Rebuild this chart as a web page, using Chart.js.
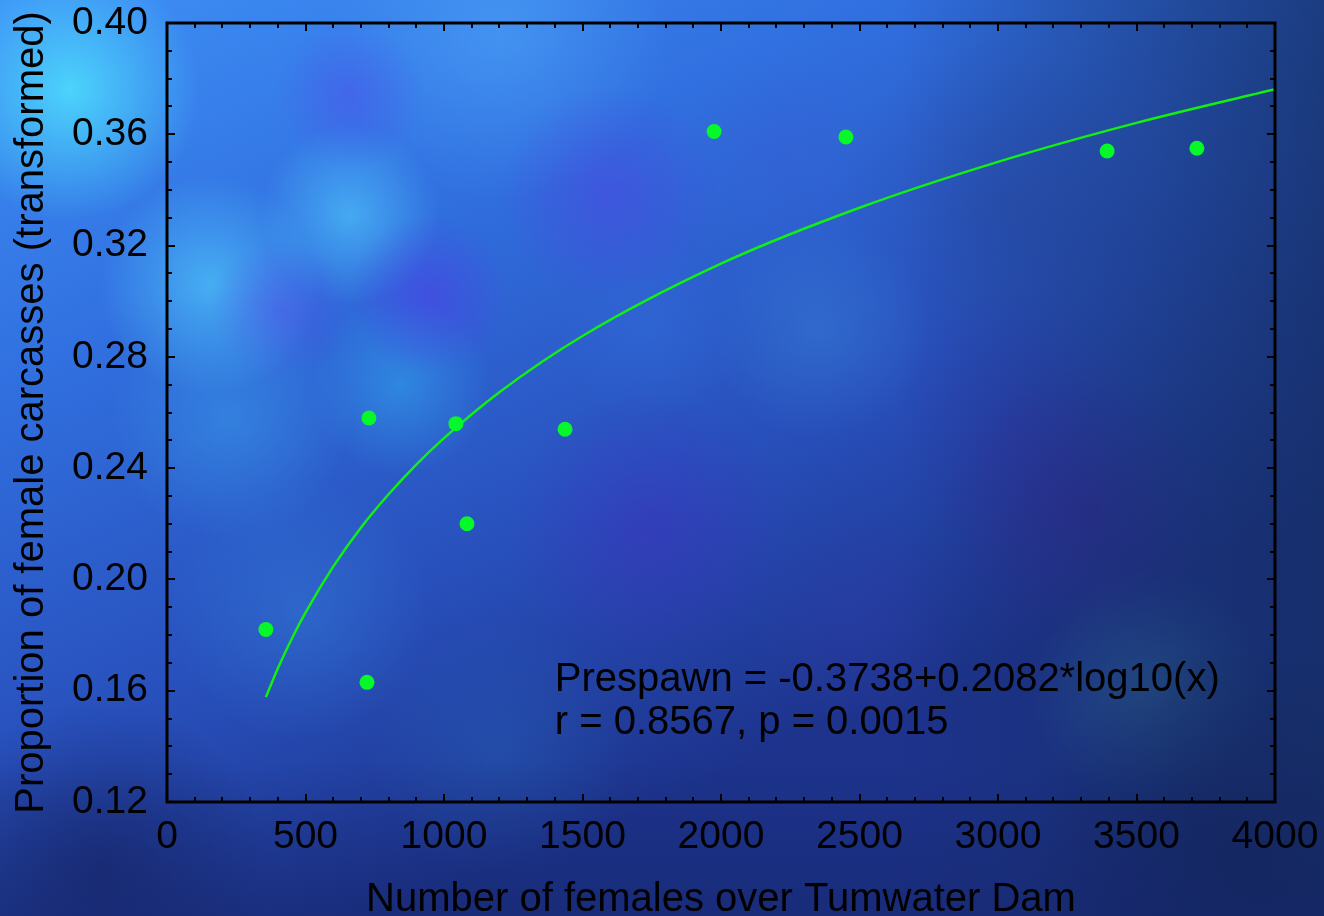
<!DOCTYPE html>
<html>
<head>
<meta charset="utf-8">
<script src="https://cdn.jsdelivr.net/npm/chart.js@4.4.1/dist/chart.umd.min.js"></script>
<style>
  html, body { margin: 0; padding: 0; background: #1a3580; }
  canvas { display: block; }
</style>
</head>
<body>
<canvas id="grafico" width="1324" height="916"></canvas>
<script>
// pontos observados
const femalesX = [357, 729, 722, 1043, 1083, 1437, 1975, 2451, 3394, 3718];
const prespawnY = [0.182, 0.258, 0.163, 0.256, 0.220, 0.254, 0.361, 0.359, 0.354, 0.355];

const fitX = [357, 400, 450, 500, 600, 700, 800, 900, 1000, 1200, 1500, 2000, 2500, 3000, 3500, 4000];
const fitY = [0.1577, 0.1680, 0.1786, 0.1881, 0.2046, 0.2186, 0.2306, 0.2413, 0.2508, 0.2673, 0.2875, 0.3135, 0.3336, 0.3501, 0.3641, 0.3762];

const xTicks = [0, 500, 1000, 1500, 2000, 2500, 3000, 3500, 4000];
const yTicks = [0.12, 0.16, 0.20, 0.24, 0.28, 0.32, 0.36, 0.40];

const xTitle = 'Number of females over Tumwater Dam';
const yTitle = 'Proportion of female carcasses (transformed)';
const equacao = ['Prespawn = -0.3738+0.2082*log10(x)', 'r = 0.8567, p = 0.0015'];

const fonte = '"Liberation Sans", Arial, sans-serif';
const tamanho = 39;
const tamanhoTitulo = 40;

// fundo azul manchado
const fundoPlugin = {
    id: 'fundo',
    beforeDraw(chart) {
        const c = chart.ctx;
        const w = chart.width, h = chart.height;
        c.save();
        let g = c.createLinearGradient(0, 0, w * 0.3, h);
        g.addColorStop(0, '#3e90f6');
        g.addColorStop(0.35, '#3170e0');
        g.addColorStop(0.7, '#2850bc');
        g.addColorStop(1, '#1d338c');
        c.fillStyle = g;
        c.fillRect(0, 0, w, h);

        const manchas = [
            [70, 90, 130, 'rgba(80,230,255,0.8)'],
            [500, 30, 170, 'rgba(80,170,250,0.5)'],
            [210, 285, 110, 'rgba(85,215,255,0.6)'],
            [350, 215, 90, 'rgba(85,215,255,0.55)'],
            [400, 385, 90, 'rgba(50,180,245,0.45)'],
            [350, 95, 75, 'rgba(75,85,235,0.55)'],
            [280, 310, 70, 'rgba(85,80,235,0.45)'],
            [430, 295, 80, 'rgba(75,65,230,0.6)'],
            [610, 195, 110, 'rgba(75,70,225,0.55)'],
            [650, 330, 90, 'rgba(50,110,220,0.4)'],
            [230, 420, 120, 'rgba(60,170,240,0.4)'],
            [820, 330, 110, 'rgba(60,140,220,0.35)'],
            [780, 160, 100, 'rgba(55,95,215,0.4)'],
            [1000, 200, 160, 'rgba(40,70,160,0.4)'],
            [1020, 420, 130, 'rgba(50,50,170,0.35)'],
            [650, 530, 140, 'rgba(65,45,190,0.45)'],
            [860, 620, 110, 'rgba(50,60,170,0.35)'],
            [1080, 510, 140, 'rgba(60,30,140,0.45)'],
            [1150, 690, 120, 'rgba(60,140,165,0.4)'],
            [300, 610, 130, 'rgba(55,140,225,0.35)'],
            [500, 750, 130, 'rgba(40,120,200,0.25)'],
            [100, 870, 170, 'rgba(20,30,90,0.55)'],
            [1250, 860, 220, 'rgba(15,22,70,0.6)']
        ];
        manchas.forEach(([x, y, r, cor]) => {
            const rg = c.createRadialGradient(x, y, 0, x, y, r);
            rg.addColorStop(0, cor);
            rg.addColorStop(1, cor.replace(/[\d.]+\)$/, '0)'));
            c.fillStyle = rg;
            c.fillRect(x - r, y - r, 2 * r, 2 * r);
        });

        g = c.createLinearGradient(900, 0, w, 0);
        g.addColorStop(0, 'rgba(20,45,95,0)');
        g.addColorStop(1, 'rgba(20,45,95,0.7)');
        c.fillStyle = g;
        c.fillRect(900, 0, w - 900, h);

        g = c.createLinearGradient(0, 760, 0, h);
        g.addColorStop(0, 'rgba(20,35,100,0)');
        g.addColorStop(1, 'rgba(20,35,100,0.45)');
        c.fillStyle = g;
        c.fillRect(0, 760, w, h - 760);
        c.restore();
    }
};

// moldura com marcas para dentro, e texto da equação
const molduraPlugin = {
    id: 'moldura',
    afterDatasetsDraw(chart) {
        const c = chart.ctx;
        const a = chart.chartArea;
        const sx = chart.scales.x, sy = chart.scales.y;
        c.save();
        c.strokeStyle = '#000';
        c.lineWidth = 2;
        for (let v = 0; v <= 4000; v += 100) {
            const px = Math.round(sx.getPixelForValue(v));
            const len = v % 500 === 0 ? 8 : 5;
            c.beginPath();
            c.moveTo(px, a.bottom); c.lineTo(px, a.bottom - len);
            c.moveTo(px, a.top); c.lineTo(px, a.top + len);
            c.stroke();
        }
        for (let i = 12; i <= 40; i++) {
            const py = Math.round(sy.getPixelForValue(i / 100));
            const len = (i - 12) % 4 === 0 ? 8 : 5;
            c.beginPath();
            c.moveTo(a.left, py); c.lineTo(a.left + len, py);
            c.moveTo(a.right, py); c.lineTo(a.right - len, py);
            c.stroke();
        }
        c.lineWidth = 3;
        c.strokeRect(a.left, a.top, a.right - a.left, a.bottom - a.top);

        c.fillStyle = '#000';
        c.font = tamanhoTitulo + 'px ' + fonte;
        c.textBaseline = 'middle';
        c.textAlign = 'left';
        const ex = sx.getPixelForValue(1400);
        c.fillText(equacao[0], ex, sy.getPixelForValue(0.164));
        c.fillText(equacao[1], ex, sy.getPixelForValue(0.1485));
        c.restore();
    }
};

const ctx = document.getElementById('grafico');

let chart = new Chart(ctx, {
    data: {
        datasets: [
            {
                type: 'scatter',
                label: 'observado',
                data: femalesX.map((x, i) => ({ x: x, y: prespawnY[i] })),
                backgroundColor: '#06f82a',
                borderColor: '#06f82a',
                pointRadius: 7.5,
                pointBorderWidth: 0
            },
            {
                type: 'line',
                label: 'ajuste',
                data: fitX.map((x, i) => ({ x: x, y: fitY[i] })),
                borderColor: '#12f012',
                borderWidth: 2.5,
                pointRadius: 0,
                fill: false,
                cubicInterpolationMode: 'monotone'
            }
        ]
    },
    options: {
        responsive: false,
        animation: false,
        layout: { padding: { top: 23, right: 49, left: 0, bottom: 0 } },
        plugins: {
            legend: { display: false },
            tooltip: { enabled: false }
        },
        scales: {
            x: {
                type: 'linear',
                min: 0,
                max: 4000,
                afterBuildTicks: s => { s.ticks = xTicks.map(v => ({ value: v })); },
                afterFit: s => {
                    s.height = 114;
                    s.paddingLeft = 0;
                    s.paddingRight = 0;
                },
                grid: { display: false, drawTicks: false },
                border: { display: false },
                ticks: {
                    color: '#000',
                    padding: 16,
                    maxRotation: 0,
                    autoSkip: false,
                    font: { family: fonte, size: tamanho, lineHeight: 1 },
                    callback: v => String(v)
                },
                title: {
                    display: true,
                    text: xTitle,
                    color: '#000',
                    padding: 0,
                    font: { family: fonte, size: tamanhoTitulo, lineHeight: 0.8 }
                }
            },
            y: {
                type: 'linear',
                min: 0.12,
                max: 0.40,
                afterBuildTicks: s => { s.ticks = yTicks.map(v => ({ value: v })); },
                afterFit: s => {
                    s.width = 167;
                    s.paddingTop = 0;
                    s.paddingBottom = 0;
                },
                grid: { display: false, drawTicks: false },
                border: { display: false },
                ticks: {
                    color: '#000',
                    padding: 19,
                    autoSkip: false,
                    font: { family: fonte, size: tamanho, lineHeight: 1 },
                    callback: v => Number(v).toFixed(2)
                },
                title: {
                    display: true,
                    text: yTitle,
                    color: '#000',
                    padding: { top: 12, bottom: 0 },
                    font: { family: fonte, size: tamanhoTitulo, lineHeight: 1 }
                }
            }
        }
    },
    plugins: [fundoPlugin, molduraPlugin]
});
</script>
</body>
</html>
